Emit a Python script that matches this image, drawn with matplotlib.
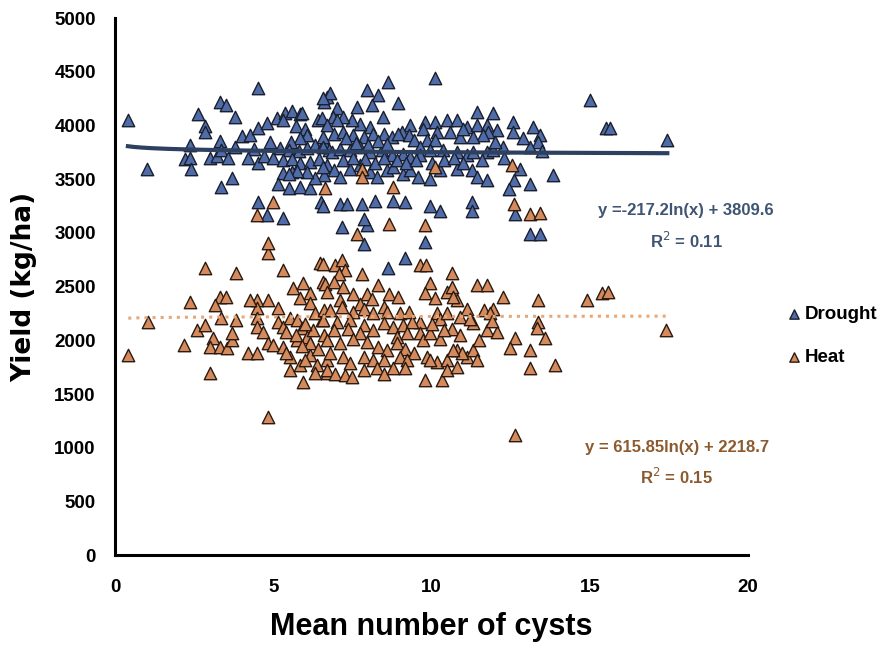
import matplotlib
matplotlib.use("Agg")
import matplotlib.pyplot as plt
import numpy as np

# ---------------------------------------------------------------------------------
# values (mean cysts, yield kg/ha)

drought_x = [0.4, 1.0, 2.2, 2.35, 2.35, 2.4, 2.6, 2.85, 2.85, 3.0, 3.2, 3.3, 3.35, 3.3, 3.5,
             3.55, 3.35, 3.7, 3.8, 3.8, 4.0, 4.25, 4.5, 4.5, 4.8, 4.5, 4.7, 5.0, 4.5, 4.8,
             4.4, 4.9, 4.2, 5.3, 5.1, 5.35, 5.6, 5.85, 5.3, 5.6, 5.15, 5.5, 5.85, 6.15,
             5.9, 5.3, 5.7, 6.0, 6.4, 6.6, 6.7, 6.05, 5.85, 5.55, 5.2, 5.5, 5.8, 6.05, 6.3,
             6.6, 6.75, 5.3, 5.6, 5.85, 6.15, 6.45, 6.7, 6.6, 6.3, 6.05, 5.75, 5.5, 6.5,
             8.63, 10.1, 7.96, 8.31, 6.79, 6.57, 8.94, 7.65, 8.12, 8.47, 7.0, 6.89, 6.54,
             11.44, 11.94, 12.57, 13.2, 13.43, 13.36, 12.57, 9.79, 10.11, 10.49, 10.81,
             11.12, 11.44, 11.75, 12.07, 11.78, 11.63, 9.74, 10.16, 10.58, 10.9, 11.0,
             11.32, 9.85, 10.11, 9.32, 9.06, 9.27, 9.43, 9.64, 8.06, 7.74, 7.48, 7.21, 7.0,
             6.69, 6.9, 6.58, 7.21, 7.53, 7.85, 8.16, 8.48, 8.74, 8.95,
             6.58, 6.85, 7.11, 7.42, 7.74, 8.06, 8.43, 8.74, 9.11, 9.32, 9.64, 9.95, 10.37,
             10.8, 11.11, 11.32, 11.74, 11.95, 12.27,
             6.58, 6.9, 7.11, 7.42, 7.74, 8.06, 8.27, 8.58, 8.79, 9.11, 9.32, 9.58, 9.95,
             10.27, 10.8, 11.27, 11.43, 12.59, 13.85, 13.11, 12.43, 11.74,
             6.58, 7.11, 7.32, 7.79, 8.22, 8.79, 9.16, 9.95, 10.27, 11.27, 11.27, 12.64,
             7.16, 7.95, 7.85, 13.11, 13.43, 9.79, 7.85, 8.63, 9.16,
             7.3, 7.6, 8.0, 8.3, 8.6, 7.2, 7.5, 7.9, 8.2, 8.5, 8.9, 9.2, 9.5, 10.0, 10.4,
             10.7, 11.0, 11.6, 12.0, 12.3, 12.8, 13.1, 12.9, 13.5, 15.0, 15.5, 15.65, 17.45]
drought_y = [4050, 3600, 3690, 3820, 3700, 3600, 4110, 4000, 3940, 3700, 3720, 3860, 3770, 4220, 4190,
             3700, 3430, 3510, 4080, 3800, 3900, 3910, 3975, 4350, 4020, 3650, 3720, 3700, 3290, 3170,
             3780, 3850, 3700, 3140, 4070, 4120, 4140, 4110, 3560, 3570, 3460, 3420, 3430, 3420,
             4120, 4050, 4000, 3970, 4050, 4220, 4270, 3910, 3880, 3850, 3790, 3770, 3760, 3790, 3820,
             3850, 3770, 3680, 3690, 3650, 3660, 3690, 3630, 3540, 3510, 3570, 3580, 3550, 3290,
             4405, 4440, 4330, 4283, 4301, 4255, 4208, 4171, 4190, 4078, 4162, 4078, 4068,
             4124, 4115, 4031, 3985, 3910, 3845, 3938, 4031, 4031, 4050, 4050,
             3985, 4003, 4003, 3957, 3938, 3910, 3972, 3941, 3941, 3895, 3972,
             3895, 3864, 3864, 4003, 3941, 3910, 3864, 3801, 3988, 4018, 4050, 4081, 4050,
             4003, 3926, 3895, 3941, 3910, 3895, 3926, 3926, 3895, 3926,
             3801, 3755, 3786, 3770, 3801, 3755, 3770, 3724, 3739, 3708, 3724, 3770, 3770,
             3755, 3724, 3755, 3755, 3770, 3801,
             3615, 3584, 3522, 3600, 3631, 3569, 3522, 3584, 3615, 3553, 3584, 3522, 3507,
             3584, 3600, 3584, 3522, 3491, 3538, 3460, 3413, 3491,
             3253, 3268, 3268, 3268, 3300, 3300, 3284, 3253, 3206, 3284, 3206, 3175,
             3057, 3072, 3134, 2994, 2994, 2917, 2901, 2672, 2765,
             3880, 3840, 3820, 3860, 3830, 3680, 3700, 3690, 3650, 3700, 3680, 3650, 3680, 3650, 3680,
             3700, 3650, 3680, 3850, 3700, 3600, 3800, 3880, 3760, 4236, 3975, 3975, 3864]

heat_x = [0.41, 1.04, 2.18, 2.37, 2.59, 2.84, 3.0, 2.84, 3.32, 3.51, 3.16, 3.35, 3.1, 3.0, 3.32,
          3.54, 3.7, 3.7, 3.82, 3.82, 4.2, 4.49, 4.49, 4.49, 4.27, 4.49, 4.49, 4.68, 4.83, 4.99,
          5.31, 4.83, 4.83, 4.83, 5.15, 5.15, 5.31, 5.53, 5.31, 5.62, 5.94, 6.16, 5.85, 6.16,
          6.48, 6.57, 5.53, 5.53, 5.94, 5.85, 6.16, 6.38, 6.32, 6.7,
          5.75, 5.91, 6.07, 6.26, 6.54, 6.16, 5.75, 5.4, 5.7, 6.0, 6.3, 6.6, 5.9, 6.4, 6.6,
          5.4, 6.0, 6.7,
          6.58, 6.95, 7.16, 7.27, 7.06, 7.79, 6.64, 6.9, 7.21, 6.69, 7.53, 7.95, 8.32, 8.64,
          8.95, 8.11, 7.11, 7.74, 8.48,
          6.79, 7.16, 7.53, 7.85, 8.16, 8.58, 9.0, 9.27, 9.64, 6.58, 7.0, 7.42, 7.85, 8.16,
          8.48, 8.79, 9.11, 9.37, 6.9, 7.37, 7.74, 8.9, 9.21, 9.64,
          6.69, 7.11, 7.53, 7.95, 8.32, 8.58, 8.9, 9.16, 9.43, 9.74, 9.95, 10.27, 10.64, 10.8,
          11.11, 11.32, 11.43, 6.79, 7.21, 7.85, 8.16, 8.48, 9.0, 9.21, 9.85, 10.16, 10.48,
          9.95, 7.42,
          6.69, 6.95, 7.27, 7.48, 7.85, 8.27, 8.48, 8.79, 9.16, 9.79, 10.32, 10.48, 10.8,
          9.64, 9.83, 10.65, 11.44, 11.75, 12.26, 13.36, 13.36, 13.33, 13.59, 13.9, 12.64,
          12.48, 13.1, 13.1, 12.64, 10.96, 10.68,
          9.95, 9.8, 10.11, 10.49, 10.65, 10.81, 10.68,
          11.74, 12.06, 11.95, 11.64, 11.85, 11.32, 11.11,
          10.16, 10.27, 10.5, 10.9, 11.2, 10.4, 10.0, 10.9, 11.5, 11.9,
          14.9, 15.39, 15.58, 17.4,
          4.99, 4.49, 4.83, 6.64, 7.8, 7.8, 8.79, 10.11, 12.53, 12.59, 13.11, 13.43, 8.64,
          9.79, 7.64]
heat_y = [1862, 2169, 1955, 2355, 2095, 2672, 1694, 2141, 2402, 2402, 2328, 2206, 2020, 1937, 1937,
          1927, 2002, 2067, 2625, 2188, 1881, 1881, 2374, 2300, 2374, 2206, 2123, 2076, 1974, 1955,
          1937, 2812, 1285, 2374, 2300, 2169, 2123, 2206, 2653, 2486, 2532, 2439, 2393, 2346,
          2718, 2542, 1843, 1722, 1611, 1769, 1862, 1769, 1694, 1815,
          2188, 2113, 2030, 2095, 2188, 1974, 2002, 2080, 2050, 2150, 2250, 2280, 1950, 1920, 2050,
          1880, 1820, 1700,
          2715, 2700, 2746, 2653, 2622, 2622, 2529, 2545, 2498, 2452, 2436, 2436, 2514, 2436,
          2405, 2389, 2374, 2343, 2312,
          2281, 2312, 2265, 2296, 2250, 2265, 2250, 2265, 2172, 2188, 2172, 2188, 2141, 2095,
          2157, 2126, 2141, 2172, 2095, 2110, 2064, 2033, 2064, 2064,
          2002, 1971, 2017, 1986, 1940, 1909, 1971, 1924, 1878, 2002, 2064, 2017, 2110, 1909,
          1847, 1909, 1816, 1878, 1847, 1847, 1816, 1816, 1847, 1816, 1847, 1800, 1816,
          1816, 1785,
          1722, 1691, 1676, 1660, 1722, 1738, 1691, 1738, 1738, 1629, 1629, 1722, 1753,
          2700, 2700, 2625, 2514, 2514, 2402, 2374, 2169, 2113, 2020, 1769, 2020,
          1927, 1908, 1741, 1117, 1880, 1908,
          2532, 2439, 2393, 2449, 2495, 2374, 2402,
          2095, 2079, 2296, 2281, 2250, 2157, 2296,
          2250, 2203, 2250, 2220, 2200, 2100, 2150, 2050, 2000, 2180,
          2374, 2439, 2449, 2095,
          3286, 3165, 2905, 3417, 3600, 3522, 3429, 3615, 3631, 3268, 3175, 3190, 3082,
          3072, 2994]

# log trend lines as drawn in the picture (a*ln(x) + b)
drought_trend = (-17.2, 3792)
heat_trend = (5.0, 2211)
drought_eq = ["y =-217.2ln(x) + 3809.6", "R$^2$ = 0.11"]
heat_eq = ["y = 615.85ln(x) + 2218.7", "R$^2$ = 0.15"]

# ---------------------------------------------------------------------------------

fig = plt.figure(figsize=(8.8, 6.5), dpi=100)
ax = fig.add_axes([0.131, 0.146, 0.719, 0.826])

txt_font = ['Liberation Sans', 'DejaVu Sans']

ax.scatter(drought_x, drought_y, marker='^', s=80, c='#4f6ca8', edgecolors='#1a1f2e',
           linewidths=1.0, zorder=2, label='Drought')
ax.scatter(heat_x, heat_y, marker='^', s=80, c='#d48a5c', edgecolors='#2a1a10',
           linewidths=1.0, zorder=3, label='Heat')

xd = np.linspace(min(drought_x), max(drought_x), 200)
ax.plot(xd, drought_trend[0] * np.log(xd) + drought_trend[1], '-', color='#2d4060', lw=3, zorder=4)
xh = np.linspace(min(heat_x), max(heat_x), 200)
ax.plot(xh, heat_trend[0] * np.log(xh) + heat_trend[1], ':', color='#e6a878', lw=2.2, zorder=4)

ax.set_xlim(0, 20)
ax.set_ylim(0, 5000)
ax.set_xticks(np.arange(0, 21, 5))
ax.set_yticks(np.arange(0, 5001, 500))
ax.tick_params(axis='y', length=0, pad=14)
ax.tick_params(axis='x', length=0, pad=17)
for lab in ax.get_xticklabels() + ax.get_yticklabels():
    lab.set_family(txt_font)
    lab.set_fontweight('bold')
    lab.set_fontsize(13.5)

for side in ['top', 'right']:
    ax.spines[side].set_visible(False)
for side in ['left', 'bottom']:
    ax.spines[side].set_linewidth(2.2)
    ax.spines[side].set_color('black')

ax.set_xlabel('Mean number of cysts', family=txt_font, fontweight='bold', fontsize=22, labelpad=12)
ax.set_ylabel('Yield (kg/ha)', family='DejaVu Sans', fontweight='bold', fontsize=19, labelpad=12)

ax.text(18.05, 3210, drought_eq[0], color='#3f5573', fontsize=12, fontweight='bold',
        family=txt_font, ha='center', va='center')
ax.text(18.05, 2930, drought_eq[1], color='#3f5573', fontsize=12, fontweight='bold',
        family=txt_font, ha='center', va='center')
ax.text(17.75, 1005, heat_eq[0], color='#8c5a2e', fontsize=12, fontweight='bold',
        family=txt_font, ha='center', va='center')
ax.text(17.75, 725, heat_eq[1], color='#8c5a2e', fontsize=12, fontweight='bold',
        family=txt_font, ha='center', va='center')

leg = fig.legend(loc='center left', bbox_to_anchor=(0.87, 0.483), frameon=False,
                 handletextpad=0.0, labelspacing=1.35, markerscale=0.75, handlelength=1.2,
                 prop={'family': txt_font, 'weight': 'bold', 'size': 13.5})

plt.savefig('out.png', dpi=100)
